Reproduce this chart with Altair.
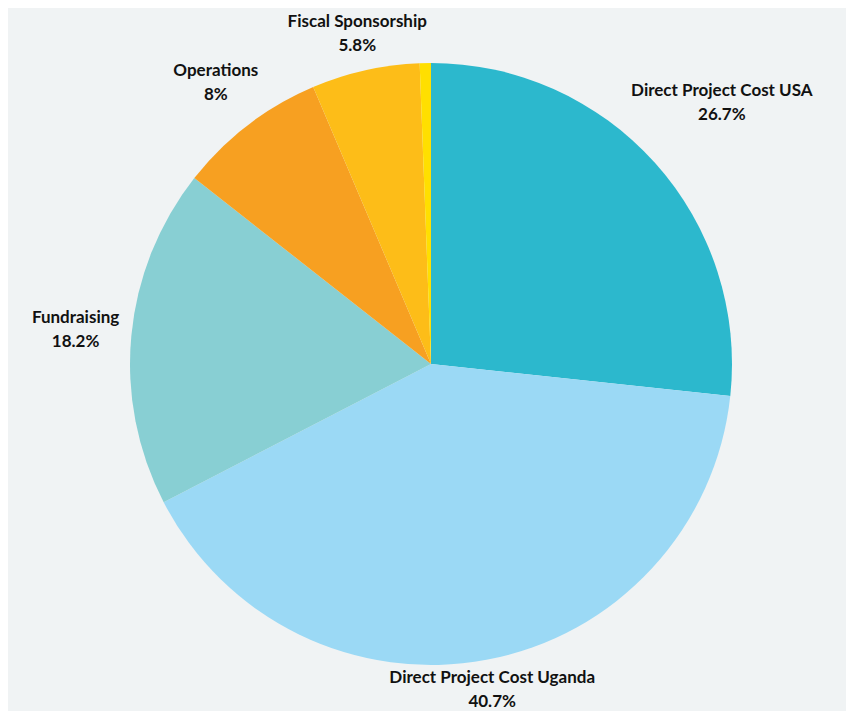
import altair as alt
import pandas as pd

categories = ["Direct Project Cost USA", "Direct Project Cost Uganda", "Fundraising",
              "Operations", "Fiscal Sponsorship", "Other"]
values = [26.7, 40.7, 18.2, 8.0, 5.8, 0.6]
pct_labels = ["26.7%", "40.7%", "18.2%", "8%", "5.8%", ""]
name_labels = ["Direct Project Cost USA", "Direct Project Cost Uganda", "Fundraising",
               "Operations", "Fiscal Sponsorship", ""]
colors = ["#2cb8cd", "#9bd9f5", "#88cfd3", "#f7a021", "#fdbd18", "#ffdf00"]

# label distance from centre (style)
label_radius = {"Direct Project Cost USA": 391, "Direct Project Cost Uganda": 332,
                "Fundraising": 357, "Operations": 354, "Fiscal Sponsorship": 338, "Other": 320}

df = pd.DataFrame({
    "category": categories,
    "value": values,
    "name": name_labels,
    "pct": pct_labels,
    "order": list(range(len(categories))),
})
df["lr"] = df["category"].map(label_radius)

CX, CY, R = 423, 356, 301

arcs = alt.Chart(df).mark_arc(outerRadius=R, strokeWidth=0).encode(
    theta=alt.Theta("value:Q", stack=True),
    order=alt.Order("order:Q"),
    color=alt.Color("category:N", scale=alt.Scale(domain=categories, range=colors), legend=None),
    x=alt.value(CX), y=alt.value(CY),
)

lbl = alt.Chart(df).transform_joinaggregate(
    total="sum(value)"
).transform_window(
    cum="sum(value)", sort=[alt.SortField("order")], frame=[None, 0]
).transform_calculate(
    mid="(datum.cum - datum.value / 2) / datum.total * 2 * PI"
)

def text_layer(field, dy):
    return lbl.mark_text(font="Lato", fontWeight="bold", fontSize=17, color="#111111",
                         dy=dy, align="center", baseline="middle").encode(
        theta=alt.Theta("mid:Q", scale=None, stack=None),
        radius=alt.Radius("lr:Q", scale=None),
        text=f"{field}:N",
        x=alt.value(CX), y=alt.value(CY),
    )

chart = (arcs + text_layer("name", -12) + text_layer("pct", 12)).properties(
    width=838, height=703, padding=0, autosize=alt.AutoSizeParams(type="none"),
    background="#f0f3f4",
).configure_view(stroke=None)

chart.save("out.html", embed_options={"renderer": "svg", "actions": False})
